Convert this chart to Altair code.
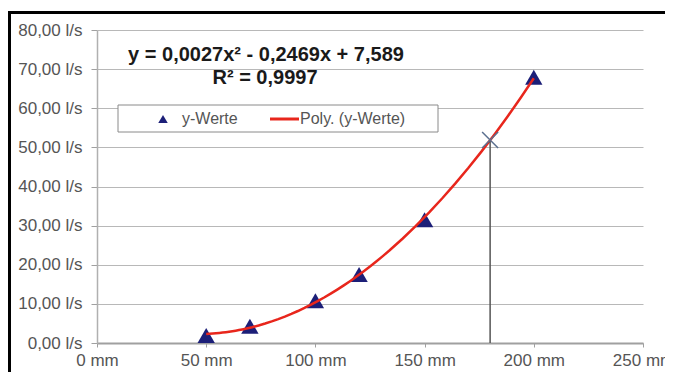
import altair as alt
import pandas as pd

# --- data ---
diam_mm = [50, 70, 100, 120, 150, 200]
flow_ls = [1.9, 4.3, 10.8, 17.5, 31.5, 67.9]
marker_x = [180]
marker_y = [51.9]
x_ticks = [0, 50, 100, 150, 200, 250]
y_ticks = [0, 10, 20, 30, 40, 50, 60, 70, 80]
eq_lines = ["y = 0,0027x² - 0,2469x + 7,589", "R² = 0,9997"]
legend_labels = ["y-Werte", "Poly. (y-Werte)"]

FONT = "Liberation Sans"
NAVY = "#1c1f78"
RED = "#e8261c"

df = pd.DataFrame({"d": diam_mm, "q": flow_ls})
mk = pd.DataFrame({"mx": marker_x, "my": marker_y})
one = pd.DataFrame({"k": [0]})

xscale = alt.Scale(domain=[0, 250], nice=False, zero=True)
yscale = alt.Scale(domain=[0, 80], nice=False, zero=True)

xaxis = alt.Axis(
    values=x_ticks, tickCount=6, labelExpr="datum.value + ' mm'", grid=False, title=None,
    domainColor="#a0a0a0", domainWidth=2, tickColor="#a0a0a0", tickSize=4,
    labelFont=FONT, labelFontSize=17, labelColor="#555555", labelPadding=5,
    labelFlush=False, labelOverlap=False,
)
yaxis = alt.Axis(
    values=y_ticks, tickCount=9,
    labelExpr="replace(format(datum.value, '.2f'), '.', ',') + ' l/s'",
    grid=True, gridColor="#b8b8b8", gridWidth=1, title=None,
    domainColor="#b0b0b0", domainWidth=1.5, tickColor="#a0a0a0", tickSize=6,
    labelFont=FONT, labelFontSize=17, labelColor="#555555", labelPadding=9,
    labelOverlap=False,
)

points = alt.Chart(df).mark_point(
    shape="triangle-up", filled=True, size=300, color=NAVY, opacity=1
).encode(
    x=alt.X("d:Q", scale=xscale, axis=xaxis),
    y=alt.Y("q:Q", scale=yscale, axis=yaxis),
)

curve = alt.Chart(df).transform_regression(
    "d", "q", method="poly", order=2, extent=[50, 200]
).mark_line(color=RED, strokeWidth=2.5).encode(
    x=alt.X("d:Q", scale=xscale, axis=xaxis),
    y=alt.Y("q:Q", scale=yscale, axis=yaxis),
)

vline = alt.Chart(mk).mark_rule(color="#555555", strokeWidth=1.5).encode(
    x=alt.X("mx:Q", scale=xscale, axis=xaxis),
    y=alt.Y("my:Q", scale=yscale, axis=yaxis),
    y2=alt.datum(0),
)

xmark = alt.Chart(mk).mark_point(
    shape="M-1,-1L1,1M-1,1L1,-1", filled=False, size=256,
    stroke="#5b7090", strokeWidth=1.5, opacity=1
).encode(
    x=alt.X("mx:Q", scale=xscale, axis=xaxis),
    y=alt.Y("my:Q", scale=yscale, axis=yaxis),
)

eq1 = alt.Chart(pd.DataFrame({"t": [eq_lines[0]]})).mark_text(
    font=FONT, fontSize=20, fontWeight="bold", color="#1a1a1a",
    align="center", baseline="middle"
).encode(x=alt.value(169), y=alt.value(25), text="t:N")

eq2 = alt.Chart(pd.DataFrame({"t": [eq_lines[1]]})).mark_text(
    font=FONT, fontSize=20, fontWeight="bold", color="#1a1a1a",
    align="center", baseline="middle"
).encode(x=alt.value(168), y=alt.value(48), text="t:N")

# legend (drawn manually to match the Excel look)
leg_box = alt.Chart(one).mark_rect(
    fill="white", stroke="#8a8a8a", strokeWidth=1
).encode(x=alt.value(21), x2=alt.value(341), y=alt.value(75), y2=alt.value(102))

leg_tri = alt.Chart(one).mark_point(
    shape="triangle-up", filled=True, size=90, color=NAVY, opacity=1
).encode(x=alt.value(66), y=alt.value(89))

leg_line = alt.Chart(one).mark_rule(color=RED, strokeWidth=3).encode(
    x=alt.value(173), x2=alt.value(202), y=alt.value(89)
)

leg_t1 = alt.Chart(pd.DataFrame({"t": [legend_labels[0]]})).mark_text(
    font=FONT, fontSize=16, color="#555555", align="left", baseline="middle"
).encode(x=alt.value(85), y=alt.value(89), text="t:N")

leg_t2 = alt.Chart(pd.DataFrame({"t": [legend_labels[1]]})).mark_text(
    font=FONT, fontSize=16, color="#555555", align="left", baseline="middle"
).encode(x=alt.value(203), y=alt.value(89), text="t:N")

# outer chart frame (top and left edges visible in the reference)
frame_top = alt.Chart(one).mark_rule(color="#000000", strokeWidth=3).encode(
    x=alt.value(-89), x2=alt.value(600), y=alt.value(-17.5)
)
frame_left = alt.Chart(one).mark_rule(color="#000000", strokeWidth=3).encode(
    x=alt.value(-87.5), y=alt.value(-19), y2=alt.value(400)
)

chart = alt.layer(
    points, curve, vline, xmark, eq1, eq2,
    leg_box, leg_tri, leg_line, leg_t1, leg_t2, frame_top, frame_left
).properties(
    width=546, height=313,
    autosize=alt.AutoSizeParams(type="none"),
    padding={"left": 89, "top": 22, "right": 22, "bottom": 29},
    background="white",
).configure_view(stroke=None)

chart.save("out.html", embed_options={"renderer": "svg", "actions": False})
